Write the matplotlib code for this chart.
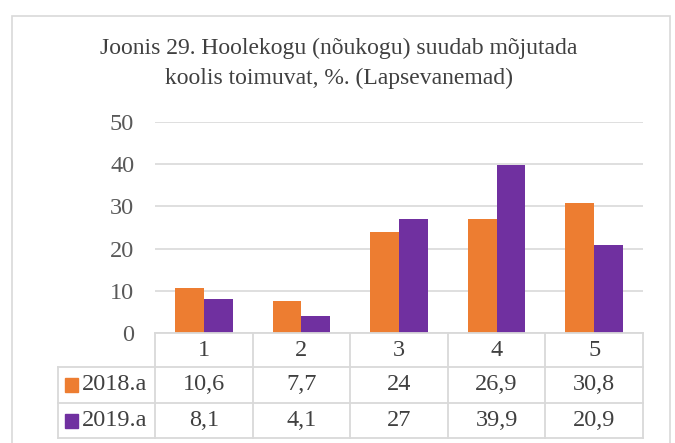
import matplotlib.pyplot as plt
from matplotlib.patches import Rectangle
from matplotlib.transforms import blended_transform_factory

categories = ['1', '2', '3', '4', '5']
series_names = ['2018.a', '2019.a']
values_2018 = [10.6, 7.7, 24, 26.9, 30.8]
values_2019 = [8.1, 4.1, 27, 39.9, 20.9]
labels_2018 = ['10,6', '7,7', '24', '26,9', '30,8']
labels_2019 = ['8,1', '4,1', '27', '39,9', '20,9']
yticks = [0, 10, 20, 30, 40, 50]

orange = '#ED7D31'
purple = '#7030A0'
grid_c = '#D9D9D9'
txt_c = '#404040'

plt.rcParams['font.family'] = ['Liberation Serif', 'DejaVu Serif']

W, H = 675, 443
fig = plt.figure(figsize=(W / 100, H / 100), dpi=100)

# outer chart frame
fig.patches.append(Rectangle((12 / W, -0.01), 658 / W, 1 - 16 / H + 0.01,
                             transform=fig.transFigure, fill=False,
                             edgecolor=grid_c, lw=1.2))

fig.text(339 / W, 1 - 48 / H, 'Joonis 29. Hoolekogu (nõukogu) suudab mõjutada',
         ha='center', va='center', fontsize=17, color=txt_c)
fig.text(339 / W, 1 - 78 / H, 'koolis toimuvat, %. (Lapsevanemad)',
         ha='center', va='center', fontsize=17, color=txt_c)

left, right, top, bottom = 155, 643, 122, 333
ax = fig.add_axes([left / W, 1 - bottom / H, (right - left) / W, (bottom - top) / H])

x = list(range(len(categories)))
bw = 0.295
ax.bar([i - bw / 2 for i in x], values_2018, bw, color=orange, zorder=3)
ax.bar([i + bw / 2 for i in x], values_2019, bw, color=purple, zorder=3)

ax.set_xlim(-0.5, len(categories) - 0.5)
ax.set_ylim(0, 50)
ax.set_yticks(yticks)
ax.yaxis.grid(True, color=grid_c, lw=1.2, zorder=0)
ax.tick_params(axis='y', length=0, pad=15, labelsize=17.5, labelcolor='#595959')
ax.set_xticks([])
for s in ax.spines.values():
    s.set_visible(False)

# data table below the plot
ah = bottom - top
rows = [(333, 367), (367, 403), (403, 438)]
ty = lambda py: (bottom - py) / ah
tr = blended_transform_factory(ax.transData, ax.transAxes)
tra = ax.transAxes
lk = dict(color=grid_c, lw=1.3, clip_on=False, zorder=4)

x0 = (58 - left) / (right - left)
ax.plot([0, 1], [ty(333)] * 2, transform=tra, **lk)
for py in (367, 403, 438):
    ax.plot([x0, 1], [ty(py)] * 2, transform=tra, **lk)
ax.plot([x0, x0], [ty(367), ty(438)], transform=tra, **lk)
for b in [i - 0.5 for i in range(len(categories) + 1)]:
    ax.plot([b, b], [ty(333), ty(438)], transform=tr, **lk)

fs = 17.5
for i, c in enumerate(categories):
    ax.text(i, ty(sum(rows[0]) / 2), c, transform=tr, ha='center', va='center',
            fontsize=fs, color=txt_c)
    ax.text(i, ty(sum(rows[1]) / 2), labels_2018[i], transform=tr, ha='center',
            va='center', fontsize=fs, color=txt_c)
    ax.text(i, ty(sum(rows[2]) / 2), labels_2019[i], transform=tr, ha='center',
            va='center', fontsize=fs, color=txt_c)

for (r0, r1), name, col in zip(rows[1:], series_names, [orange, purple]):
    cy = (r0 + r1) / 2
    fig.patches.append(Rectangle((65 / W, 1 - (cy + 7) / H), 13 / W, 14 / H,
                                 transform=fig.transFigure, color=col))
    fig.text(82 / W, 1 - cy / H, name, ha='left', va='center', fontsize=fs,
             color=txt_c)

fig.savefig('out.png', dpi=100)
